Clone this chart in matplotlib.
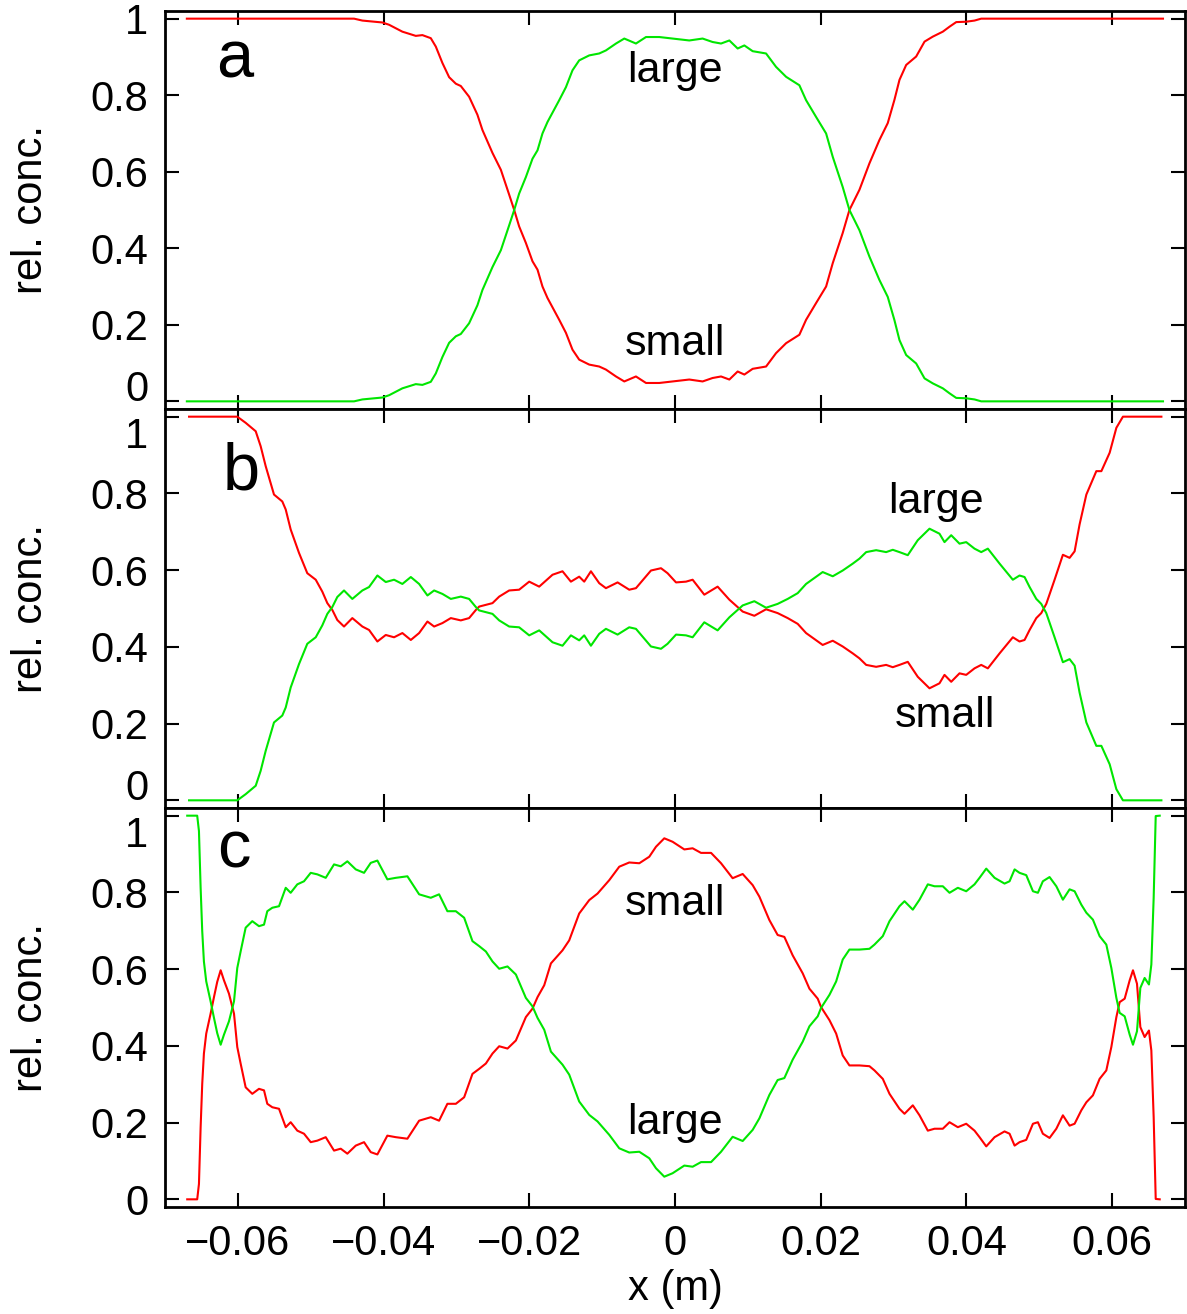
import matplotlib
matplotlib.use('Agg')
import matplotlib.pyplot as plt

plt.rcParams['font.family'] = ['Liberation Sans', 'DejaVu Sans']

# ---------------- data ----------------
x_a = [-0.0670, -0.04405, -0.04291, -0.04016, -0.03924, -0.03742, -0.03558, -0.03467, -0.03352, -0.03283,
       -0.03192, -0.03100, -0.03008, -0.02940, -0.02826, -0.02712, -0.02643, -0.02505, -0.02390, -0.02276,
       -0.02207, -0.02139, -0.02047, -0.01956, -0.01887, -0.01819, -0.01750, -0.01589, -0.01497, -0.01407,
       -0.01315, -0.01177, -0.01040, -0.00948, -0.00810, -0.00696, -0.00536, -0.00398, -0.00216, -0.00033,
       0.00196, 0.00379, 0.00516, 0.00632, 0.00746, 0.00860, 0.00952, 0.01066, 0.01250, 0.01387,
       0.01525, 0.01707, 0.01799, 0.01937, 0.02074, 0.02165, 0.02302, 0.02394, 0.02532, 0.02669,
       0.02806, 0.02920, 0.03012, 0.03081, 0.03173, 0.03310, 0.03425, 0.03538, 0.03676, 0.03768,
       0.03860, 0.03997, 0.04111, 0.04203, 0.06698]
small_a = [1.000, 1.000, 0.995, 0.990, 0.984, 0.966, 0.955, 0.957, 0.949, 0.927,
           0.884, 0.847, 0.830, 0.824, 0.796, 0.749, 0.709, 0.649, 0.605, 0.540,
           0.500, 0.457, 0.414, 0.366, 0.344, 0.300, 0.270, 0.213, 0.179, 0.135,
           0.109, 0.096, 0.091, 0.083, 0.065, 0.052, 0.065, 0.048, 0.048, 0.052,
           0.057, 0.052, 0.061, 0.065, 0.057, 0.078, 0.070, 0.085, 0.091, 0.126,
           0.152, 0.174, 0.213, 0.257, 0.300, 0.361, 0.440, 0.500, 0.553, 0.622,
           0.683, 0.727, 0.788, 0.840, 0.879, 0.901, 0.940, 0.953, 0.966, 0.979,
           0.991, 0.992, 0.995, 1.000, 1.000]
large_a = [0.000, 0.000, 0.005, 0.010, 0.016, 0.034, 0.045, 0.043, 0.051, 0.073,
           0.116, 0.153, 0.170, 0.176, 0.204, 0.251, 0.291, 0.351, 0.395, 0.460,
           0.500, 0.543, 0.586, 0.634, 0.656, 0.700, 0.730, 0.787, 0.821, 0.865,
           0.891, 0.904, 0.909, 0.917, 0.935, 0.948, 0.935, 0.952, 0.952, 0.948,
           0.943, 0.948, 0.939, 0.935, 0.943, 0.922, 0.930, 0.915, 0.909, 0.874,
           0.848, 0.826, 0.787, 0.743, 0.700, 0.639, 0.560, 0.500, 0.447, 0.378,
           0.317, 0.273, 0.212, 0.160, 0.121, 0.099, 0.060, 0.047, 0.034, 0.021,
           0.009, 0.008, 0.005, 0.000, 0.000]

x_b = [-0.0667, -0.06008, -0.05893, -0.05755, -0.05687, -0.05618, -0.05504, -0.05390, -0.05343, -0.05275,
       -0.05161, -0.05047, -0.04931, -0.04841, -0.04772, -0.04703, -0.04635, -0.04543, -0.04429, -0.04291,
       -0.04199, -0.04085, -0.03970, -0.03856, -0.03742, -0.03626, -0.03512, -0.03398, -0.03306, -0.03192,
       -0.03077, -0.02940, -0.02826, -0.02734, -0.02688, -0.02505, -0.02413, -0.02276, -0.02139, -0.02001,
       -0.01864, -0.01681, -0.01544, -0.01429, -0.01315, -0.01246, -0.01154, -0.01040, -0.00948, -0.00788,
       -0.00628, -0.00536, -0.00330, -0.00192, -0.00102, 0.00014, 0.00151, 0.00242, 0.00402, 0.00585,
       0.00746, 0.00929, 0.01089, 0.01250, 0.01409, 0.01547, 0.01684, 0.01799, 0.02027, 0.02165,
       0.02302, 0.02440, 0.02532, 0.02624, 0.02761, 0.02898, 0.02989, 0.03081, 0.03195, 0.03332,
       0.03493, 0.03630, 0.03699, 0.03791, 0.03905, 0.03997, 0.04111, 0.04203, 0.04294, 0.04455,
       0.04637, 0.04729, 0.04798, 0.04867, 0.04959, 0.05027, 0.05096, 0.05210, 0.05324, 0.05416,
       0.05485, 0.05553, 0.05646, 0.05783, 0.05852, 0.05966, 0.06058, 0.06148, 0.06676]
small_b = [1.000, 1.000, 0.984, 0.962, 0.923, 0.871, 0.797, 0.779, 0.758, 0.706,
           0.645, 0.592, 0.575, 0.544, 0.514, 0.496, 0.470, 0.453, 0.475, 0.453,
           0.444, 0.414, 0.431, 0.425, 0.436, 0.418, 0.436, 0.466, 0.453, 0.462,
           0.475, 0.469, 0.475, 0.496, 0.505, 0.514, 0.531, 0.547, 0.549, 0.570,
           0.557, 0.588, 0.597, 0.570, 0.583, 0.570, 0.597, 0.566, 0.553, 0.568,
           0.549, 0.553, 0.599, 0.605, 0.592, 0.568, 0.570, 0.575, 0.536, 0.557,
           0.523, 0.492, 0.481, 0.498, 0.488, 0.475, 0.460, 0.436, 0.405, 0.416,
           0.401, 0.383, 0.370, 0.353, 0.348, 0.353, 0.347, 0.353, 0.361, 0.322,
           0.292, 0.305, 0.327, 0.309, 0.331, 0.327, 0.344, 0.353, 0.344, 0.383,
           0.425, 0.414, 0.418, 0.444, 0.475, 0.488, 0.512, 0.575, 0.640, 0.632,
           0.649, 0.719, 0.797, 0.858, 0.858, 0.906, 0.971, 1.000, 1.000]
large_b = [0.000, 0.000, 0.016, 0.038, 0.077, 0.129, 0.203, 0.221, 0.242, 0.294,
           0.355, 0.408, 0.425, 0.456, 0.486, 0.504, 0.530, 0.547, 0.525, 0.547,
           0.556, 0.586, 0.569, 0.575, 0.564, 0.582, 0.564, 0.534, 0.547, 0.538,
           0.525, 0.531, 0.525, 0.504, 0.495, 0.486, 0.469, 0.453, 0.451, 0.430,
           0.443, 0.412, 0.403, 0.430, 0.417, 0.430, 0.403, 0.434, 0.447, 0.432,
           0.451, 0.447, 0.401, 0.395, 0.408, 0.432, 0.430, 0.425, 0.464, 0.443,
           0.477, 0.508, 0.519, 0.502, 0.512, 0.525, 0.540, 0.564, 0.595, 0.584,
           0.599, 0.617, 0.630, 0.647, 0.652, 0.647, 0.653, 0.647, 0.639, 0.678,
           0.708, 0.695, 0.673, 0.691, 0.669, 0.673, 0.656, 0.647, 0.656, 0.617,
           0.575, 0.586, 0.582, 0.556, 0.525, 0.512, 0.488, 0.425, 0.360, 0.368,
           0.351, 0.281, 0.203, 0.142, 0.142, 0.094, 0.029, 0.000, 0.000]

x_c = [-0.06695, -0.06558, -0.06534, -0.06511, -0.06489, -0.06466, -0.06434, -0.06374, -0.06328, -0.06283,
       -0.06236, -0.06191, -0.06122, -0.06053, -0.06008, -0.05962, -0.05893, -0.05802, -0.05710, -0.05641,
       -0.05596, -0.05527, -0.05435, -0.05343, -0.05275, -0.05184, -0.05092, -0.05000, -0.04909, -0.04794,
       -0.04680, -0.04588, -0.04497, -0.04382, -0.04268, -0.04176, -0.04085, -0.03948, -0.03832, -0.03673,
       -0.03512, -0.03352, -0.03238, -0.03124, -0.03008, -0.02894, -0.02780, -0.02688, -0.02596, -0.02505,
       -0.02413, -0.02299, -0.02184, -0.02047, -0.01956, -0.01887, -0.01795, -0.01703, -0.01544, -0.01452,
       -0.01315, -0.01177, -0.01063, -0.00902, -0.00765, -0.00628, -0.00490, -0.00353, -0.00261, -0.00147,
       -0.00033, 0.00128, 0.00242, 0.00357, 0.00495, 0.00632, 0.00791, 0.00929, 0.01066, 0.01158,
       0.01295, 0.01409, 0.01501, 0.01615, 0.01753, 0.01845, 0.01959, 0.02005, 0.02120, 0.02212,
       0.02302, 0.02394, 0.02532, 0.02669, 0.02738, 0.02852, 0.02944, 0.03081, 0.03150, 0.03264,
       0.03356, 0.03470, 0.03562, 0.03676, 0.03768, 0.03882, 0.03997, 0.04111, 0.04180, 0.04272,
       0.04386, 0.04523, 0.04592, 0.04661, 0.04729, 0.04821, 0.04913, 0.04981, 0.05049, 0.05141,
       0.05234, 0.05324, 0.05416, 0.05485, 0.05577, 0.05646, 0.05736, 0.05828, 0.05920, 0.05989,
       0.06058, 0.06103, 0.06172, 0.06241, 0.06286, 0.06341, 0.06387, 0.06446, 0.06505, 0.06538,
       0.06570, 0.06598, 0.06653]
small_c = [0.000, 0.000, 0.040, 0.188, 0.301, 0.380, 0.432, 0.484, 0.527, 0.567,
           0.597, 0.571, 0.536, 0.484, 0.397, 0.354, 0.292, 0.275, 0.288, 0.284,
           0.249, 0.240, 0.236, 0.188, 0.201, 0.179, 0.171, 0.149, 0.153, 0.162,
           0.127, 0.132, 0.119, 0.140, 0.149, 0.123, 0.117, 0.166, 0.162, 0.158,
           0.205, 0.214, 0.205, 0.249, 0.249, 0.266, 0.327, 0.340, 0.354, 0.380,
           0.399, 0.393, 0.414, 0.475, 0.497, 0.527, 0.558, 0.615, 0.649, 0.675,
           0.745, 0.780, 0.797, 0.832, 0.867, 0.878, 0.876, 0.893, 0.919, 0.941,
           0.932, 0.912, 0.915, 0.903, 0.903, 0.876, 0.837, 0.848, 0.819, 0.789,
           0.728, 0.689, 0.684, 0.636, 0.589, 0.549, 0.523, 0.501, 0.467, 0.432,
           0.375, 0.349, 0.349, 0.347, 0.336, 0.314, 0.275, 0.236, 0.223, 0.245,
           0.219, 0.179, 0.184, 0.184, 0.201, 0.188, 0.197, 0.179, 0.162, 0.138,
           0.162, 0.177, 0.171, 0.140, 0.149, 0.155, 0.197, 0.201, 0.171, 0.160,
           0.184, 0.219, 0.192, 0.197, 0.232, 0.253, 0.271, 0.314, 0.336, 0.397,
           0.475, 0.514, 0.523, 0.571, 0.597, 0.562, 0.449, 0.423, 0.440, 0.388,
           0.214, 0.001, 0.000]
large_c = [1.000, 1.000, 0.960, 0.812, 0.699, 0.620, 0.568, 0.516, 0.473, 0.433,
           0.403, 0.429, 0.464, 0.516, 0.603, 0.646, 0.708, 0.725, 0.712, 0.716,
           0.751, 0.760, 0.764, 0.812, 0.799, 0.821, 0.829, 0.851, 0.847, 0.838,
           0.873, 0.868, 0.881, 0.860, 0.851, 0.877, 0.883, 0.834, 0.838, 0.842,
           0.795, 0.786, 0.795, 0.751, 0.751, 0.734, 0.673, 0.660, 0.646, 0.620,
           0.601, 0.607, 0.586, 0.525, 0.503, 0.473, 0.442, 0.385, 0.351, 0.325,
           0.255, 0.220, 0.203, 0.168, 0.133, 0.122, 0.124, 0.107, 0.081, 0.059,
           0.068, 0.088, 0.085, 0.097, 0.097, 0.124, 0.163, 0.152, 0.181, 0.211,
           0.272, 0.311, 0.316, 0.364, 0.411, 0.451, 0.477, 0.499, 0.533, 0.568,
           0.625, 0.651, 0.651, 0.653, 0.664, 0.686, 0.725, 0.764, 0.777, 0.755,
           0.781, 0.821, 0.816, 0.816, 0.799, 0.812, 0.803, 0.821, 0.838, 0.862,
           0.838, 0.823, 0.829, 0.860, 0.851, 0.845, 0.803, 0.799, 0.829, 0.840,
           0.816, 0.781, 0.808, 0.803, 0.768, 0.747, 0.729, 0.686, 0.664, 0.603,
           0.525, 0.486, 0.477, 0.429, 0.403, 0.438, 0.551, 0.577, 0.560, 0.612,
           0.786, 0.999, 1.000]

panel_letters = ['a', 'b', 'c']
x_ticks = [-0.06, -0.04, -0.02, 0.0, 0.02, 0.04, 0.06]
x_tick_labels = ['\u22120.06', '\u22120.04', '\u22120.02', '0', '0.02', '0.04', '0.06']
y_ticks = [0.0, 0.2, 0.4, 0.6, 0.8, 1.0]
y_tick_labels = ['0', '0.2', '0.4', '0.6', '0.8', '1']
y_label = 'rel. conc.'
x_label = 'x (m)'

panels = [
    (x_a, small_a, large_a),
    (x_b, small_b, large_b),
    (x_c, small_c, large_c),
]
# annotation text per panel: (text, x, y)
notes = [
    [('large', 0.0, 0.835), ('small', 0.0, 0.122)],
    [('large', 0.0358, 0.75), ('small', 0.0371, 0.19)],
    [('small', 0.0, 0.74), ('large', 0.0, 0.17)],
]
letter_pos = [(-0.0630, 0.845), (-0.0621, 0.81), (-0.0628, 0.866)]

# ---------------- figure ----------------
W, H = 1187, 1314
fig = plt.figure(figsize=(W / 100, H / 100), dpi=100)
left_px, right_px = 165, 1185
bounds = [(11, 409), (409, 808), (808, 1207)]
RED = '#ff0000'
GREEN = '#00e600'
FS = 30

for i, ((top, bot), (xs, sm, lg)) in enumerate(zip(bounds, panels)):
    ax = fig.add_axes([left_px / W, 1 - bot / H, (right_px - left_px) / W, (bot - top) / H])
    ax.plot(xs, sm, color=RED, lw=1.5)
    ax.plot(xs, lg, color=GREEN, lw=1.5)
    ax.set_xlim(-0.07, 0.07)
    ax.set_ylim(-0.02, 1.02)
    ax.set_xticks(x_ticks)
    ax.set_yticks(y_ticks)
    ax.set_yticklabels(y_tick_labels)
    ax.tick_params(direction='in', length=10, width=1.5, top=True, right=True,
                   labelsize=FS, pad=12)
    for s in ax.spines.values():
        s.set_linewidth(2)
    # labels at panel junctions are nudged apart, as in the reference
    for lbl in ax.get_yticklabels():
        if lbl.get_text() == '0' and i < 2:
            lbl.set_va('baseline')
        if lbl.get_text() == '1' and i > 0:
            lbl.set_va('top')
    ax.set_ylabel(y_label, fontsize=FS)
    ax.yaxis.set_label_coords(-0.112, 0.5)
    if i < 2:
        ax.tick_params(labelbottom=False)
    else:
        ax.set_xticklabels(x_tick_labels)
        ax.set_xlabel(x_label, fontsize=FS)
        ax.xaxis.set_label_coords(0.5, -0.155)
    for txt, tx, ty in notes[i]:
        ax.text(tx, ty, txt, fontsize=FS + 1, ha='center', va='baseline')
    lx, ly = letter_pos[i]
    ax.text(lx, ly, panel_letters[i], fontsize=48, ha='left', va='baseline')

fig.savefig('out.png', dpi=100)
